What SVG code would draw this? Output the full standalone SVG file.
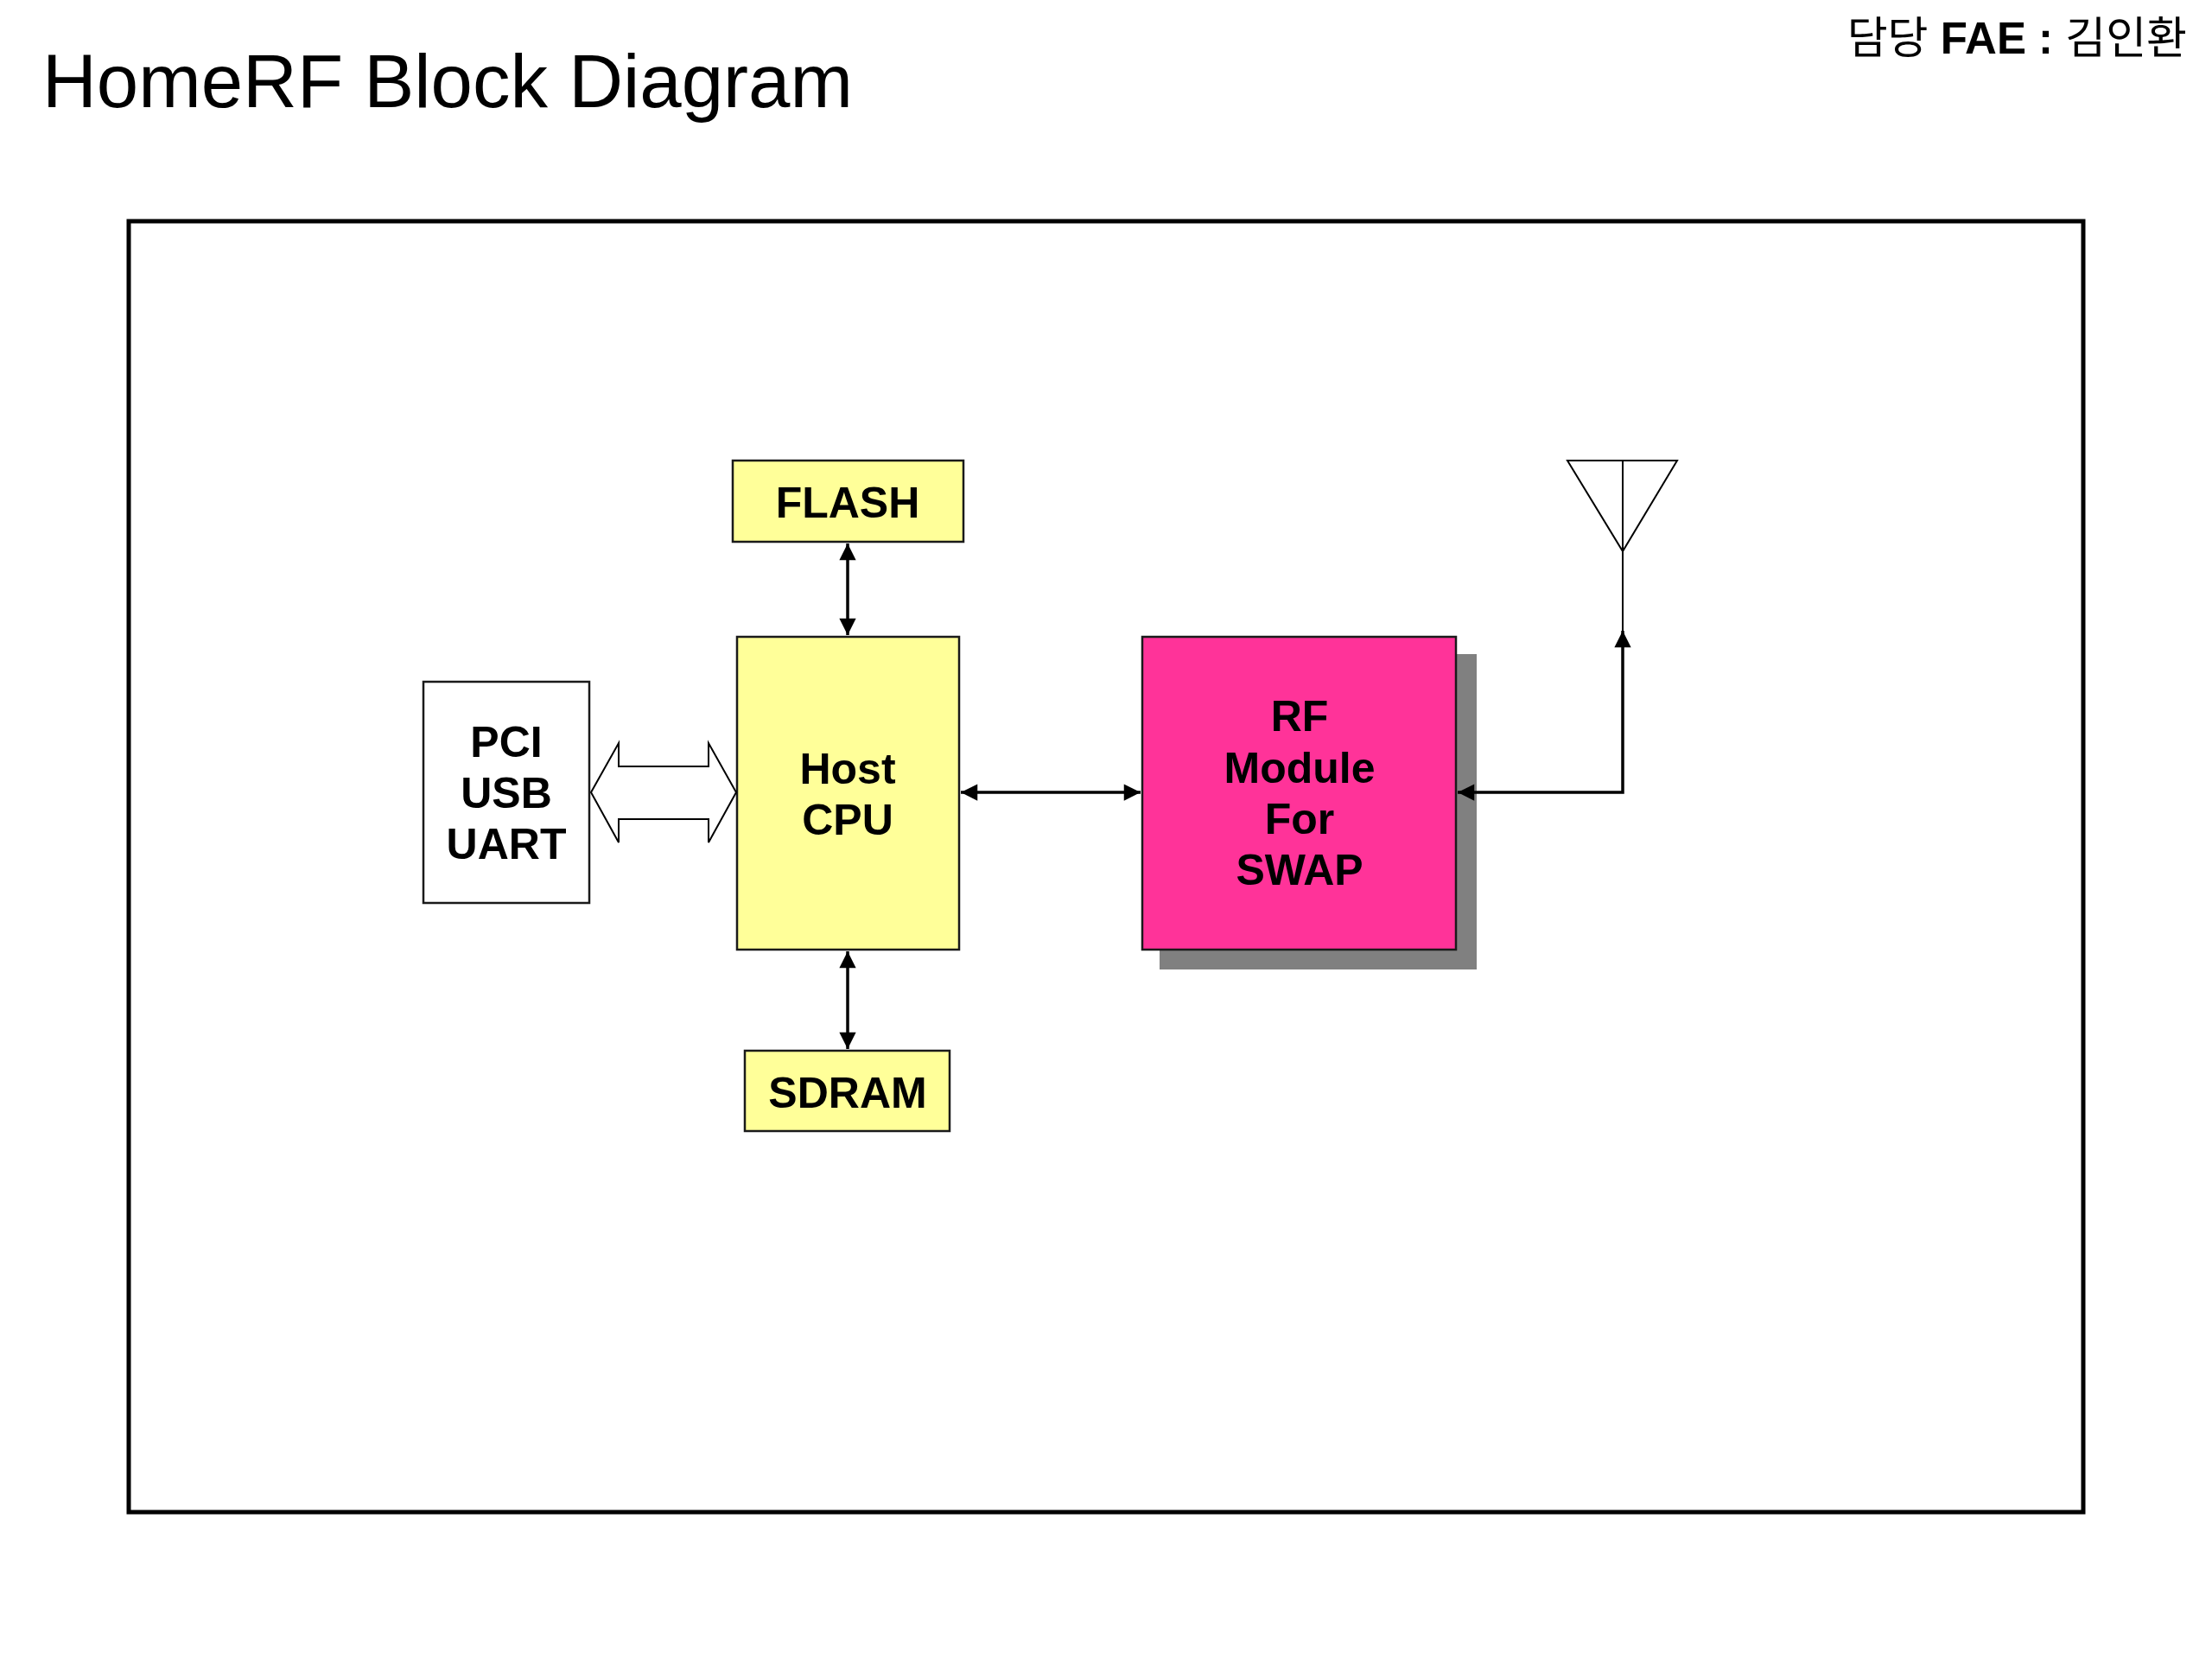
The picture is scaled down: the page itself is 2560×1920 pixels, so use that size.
<svg xmlns="http://www.w3.org/2000/svg" width="2560" height="1920" viewBox="0 0 2560 1920">
<style>
.box{stroke:#1a1a1a;stroke-width:2.5}
.yel{fill:#FFFF99}
.lbl{font-family:"Liberation Sans",Arial,sans-serif;font-weight:bold;font-size:50px;fill:#000;text-anchor:middle}
.con{stroke:#000;stroke-width:3.5;fill:none}
</style>
<defs>
<marker id="ah" viewBox="0 0 10 10" refX="10" refY="5" markerWidth="6" markerHeight="5.5" orient="auto-start-reverse" markerUnits="strokeWidth">
<path d="M0,0 L10,5 L0,10 z" fill="#000"/>
</marker>
</defs>
<rect width="2560" height="1920" fill="#fff"/>
<text x="49" y="124" font-family="'Liberation Sans',Arial,sans-serif" font-size="87" fill="#000">HomeRF Block Diagram</text>
<text x="2531" y="62" text-anchor="end" font-family="'Liberation Sans','Noto Sans CJK KR',sans-serif" font-size="51" fill="#000">담당 <tspan font-weight="bold">FAE :</tspan> 김인환</text>
<rect id="frame" x="149" y="256" width="2262" height="1494" fill="none" stroke="#000" stroke-width="5"/>

<g id="flash">
<rect class="box yel" x="848" y="533" width="267" height="94"/>
<text class="lbl" x="981" y="599">FLASH</text>
</g>
<g id="host-cpu">
<rect class="box yel" x="853" y="737" width="257" height="362"/>
<text class="lbl" x="981" y="907">Host</text>
<text class="lbl" x="981" y="966">CPU</text>
</g>
<g id="pci-usb-uart">
<rect class="box" x="490" y="789" width="192" height="256" fill="#fff"/>
<text class="lbl" x="586" y="876">PCI</text>
<text class="lbl" x="586" y="935">USB</text>
<text class="lbl" x="586" y="994">UART</text>
</g>
<g id="sdram">
<rect class="box yel" x="862" y="1216" width="237" height="93"/>
<text class="lbl" x="981" y="1282">SDRAM</text>
</g>
<g id="rf-module">
<rect x="1342" y="757" width="367" height="365" fill="#808080"/>
<rect class="box" x="1322" y="737" width="363" height="362" fill="#FF3399"/>
<text class="lbl" x="1504" y="846">RF</text>
<text class="lbl" x="1504" y="906">Module</text>
<text class="lbl" x="1504" y="965">For</text>
<text class="lbl" x="1504" y="1024">SWAP</text>
</g>
<g id="antenna" fill="none" stroke="#000" stroke-width="2">
<path d="M1814,533 L1941,533 L1878,638 Z"/>
<line x1="1878" y1="533" x2="1878" y2="730"/>
</g>

<g id="connectors">
<line class="con" x1="981" y1="629" x2="981" y2="735" marker-start="url(#ah)" marker-end="url(#ah)"/>
<line class="con" x1="981" y1="1101" x2="981" y2="1214" marker-start="url(#ah)" marker-end="url(#ah)"/>
<line class="con" x1="1112" y1="917" x2="1320" y2="917" marker-start="url(#ah)" marker-end="url(#ah)"/>
<polyline class="con" points="1878,730 1878,917 1687,917" marker-start="url(#ah)" marker-end="url(#ah)"/>
<path d="M684,917 L716,860 L716,887 L820,887 L820,860 L852,917 L820,975 L820,948 L716,948 L716,975 Z" fill="#fff" stroke="#000" stroke-width="2"/>
</g>
</svg>
